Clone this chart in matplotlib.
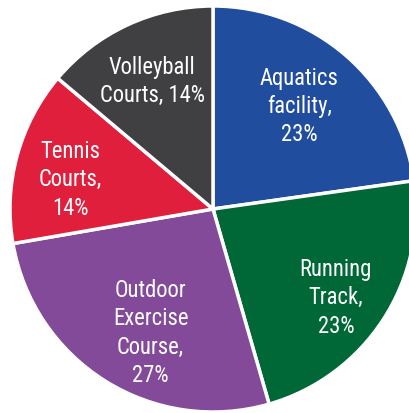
import numpy as np
import matplotlib
matplotlib.use("Agg")
import matplotlib.pyplot as plt

# facility shares (clockwise from 12 o'clock)
names = ["Aquatics\nfacility,", "Running\nTrack,", "Outdoor\nExercise\nCourse,",
         "Tennis\nCourts,", "Volleyball\nCourts,"]
shares = [23, 23, 27, 14, 14]
colors = ["#204d9e", "#006837", "#824a99", "#e01f3d", "#404042"]

# label placement: fraction of radius, clockwise nudge in degrees
label_dist = [0.660, 0.747, 0.683, 0.717, 0.695]
label_nudge = [-0.9, 2.9, -5.3, -3.5, -0.6]

plt.rcParams["font.family"] = ["Roboto Condensed", "Roboto", "DejaVu Sans"]

fig = plt.figure(figsize=(4.09, 4.13), dpi=100)
ax = fig.add_axes([0, 0, 1, 1])

cx, cy, R = 213, 204, 203
wedges, _ = ax.pie(shares, colors=colors, startangle=90, counterclock=False,
                   center=(cx, cy), radius=R,
                   wedgeprops=dict(edgecolor="white", linewidth=2.5))

for w, name, val, d, nud in zip(wedges, names, shares, label_dist, label_nudge):
    ang = np.deg2rad((w.theta1 + w.theta2) / 2 - nud)
    x = cx + d * R * np.cos(ang)
    y = cy + d * R * np.sin(ang)
    sep = " " if name.startswith("Volleyball") else "\n"
    ax.text(x, y, name + sep + f"{val}%", ha="center", va="center",
            color="white", fontsize=16.3, linespacing=1.3)

ax.set_xlim(0, 409)
ax.set_ylim(0, 413)
ax.set_aspect("equal")
ax.axis("off")

fig.savefig("out.png", dpi=100)
